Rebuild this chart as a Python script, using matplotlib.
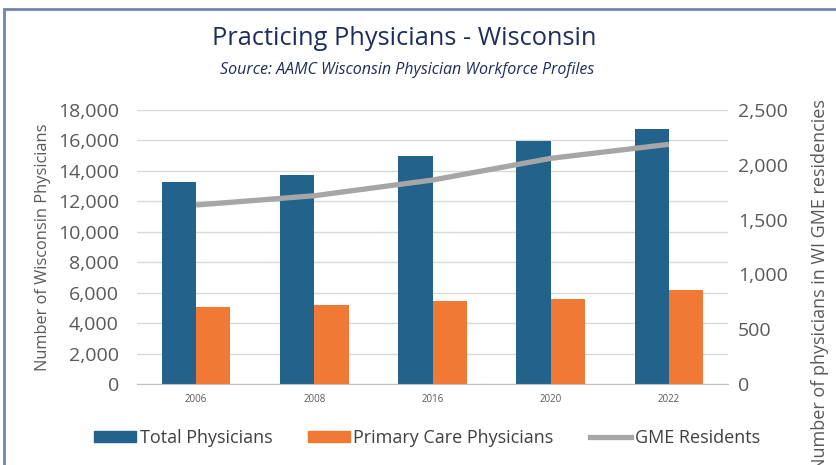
import matplotlib.pyplot as plt
import numpy as np
from matplotlib.patches import Rectangle
from matplotlib.lines import Line2D

years = ['2006', '2008', '2016', '2020', '2022']
total_physicians = [13300, 13730, 15000, 15990, 16730]
primary_care = [5060, 5210, 5470, 5580, 6150]
gme_residents = [1633, 1718, 1861, 2059, 2187]

plt.rcParams['font.family'] = ['Open Sans', 'DejaVu Sans']

fig = plt.figure(figsize=(8.36, 4.65), dpi=100)
ax = fig.add_axes([0.1639, 0.1742, 0.7069, 0.5892])
ax2 = ax.twinx()

x = np.arange(len(years))
w = 0.29
ax.bar(x - w / 2, total_physicians, w, color='#23628a', zorder=2)
ax.bar(x + w / 2, primary_care, w, color='#f07a35', zorder=2)
ax2.plot(x, gme_residents, color='#a6a6a6', lw=3.8, solid_capstyle='butt')

ax.set_xlim(-0.5, len(years) - 0.5)
ax.set_ylim(0, 18000)
ax.set_yticks(range(0, 18001, 2000))
ax.set_yticklabels([f'{v:,}' for v in range(0, 18001, 2000)])
ax2.set_ylim(0, 2500)
ax2.set_yticks(range(0, 2501, 500))
ax2.set_yticklabels([f'{v:,}' for v in range(0, 2501, 500)])

ax.set_xticks(x)
ax.set_xticklabels(years)
ax.yaxis.grid(True, color='#d9d9d9', lw=1, zorder=0)
ax.set_axisbelow(True)

for a in (ax, ax2):
    for s in a.spines.values():
        s.set_visible(False)
    a.tick_params(length=0, colors='#595959', labelsize=14)
ax.spines['bottom'].set_visible(True)
ax.spines['bottom'].set_color('#bfbfbf')
ax.tick_params(axis='y', pad=13)
ax.tick_params(axis='x', pad=7, labelsize=7)
ax2.tick_params(axis='y', pad=7)

ax.set_ylabel('Number of Wisconsin Physicians', fontsize=11.8, color='#595959')
ax.yaxis.set_label_coords(-0.1455, 0.5)
ax2.set_ylabel('Number of physicians in WI GME residencies', fontsize=13,
               color='#595959')
ax2.yaxis.set_label_coords(1.14, 0.36)

fig.text(0.483, 0.918, 'Practicing Physicians - Wisconsin', ha='center', va='center',
         fontsize=18.3, color='#1f2d5c')
fig.text(0.487, 0.849, 'Source: AAMC Wisconsin Physician Workforce Profiles', ha='center',
         va='center', fontsize=11.5, style='italic', color='#1f2d5c')

handles = [Rectangle((0, 0), 1, 1, color='#23628a'),
           Rectangle((0, 0), 1, 1, color='#f07a35'),
           Line2D([0], [0], color='#a6a6a6', lw=3.8)]
fig.legend(handles, ['Total Physicians', 'Primary Care Physicians', 'GME Residents'],
           loc='center', bbox_to_anchor=(0.511, 0.058), ncol=3, frameon=False,
           fontsize=13, handlelength=2.3, handleheight=0.6, handletextpad=0.2,
           columnspacing=2.0, labelcolor='#404040')

fig.add_artist(Rectangle((4 / 836, -0.05), 1.1, 1 - 9 / 465 + 0.05,
                         transform=fig.transFigure, fill=False,
                         edgecolor='#7383b0', lw=2))

fig.savefig('out.png', dpi=100)
